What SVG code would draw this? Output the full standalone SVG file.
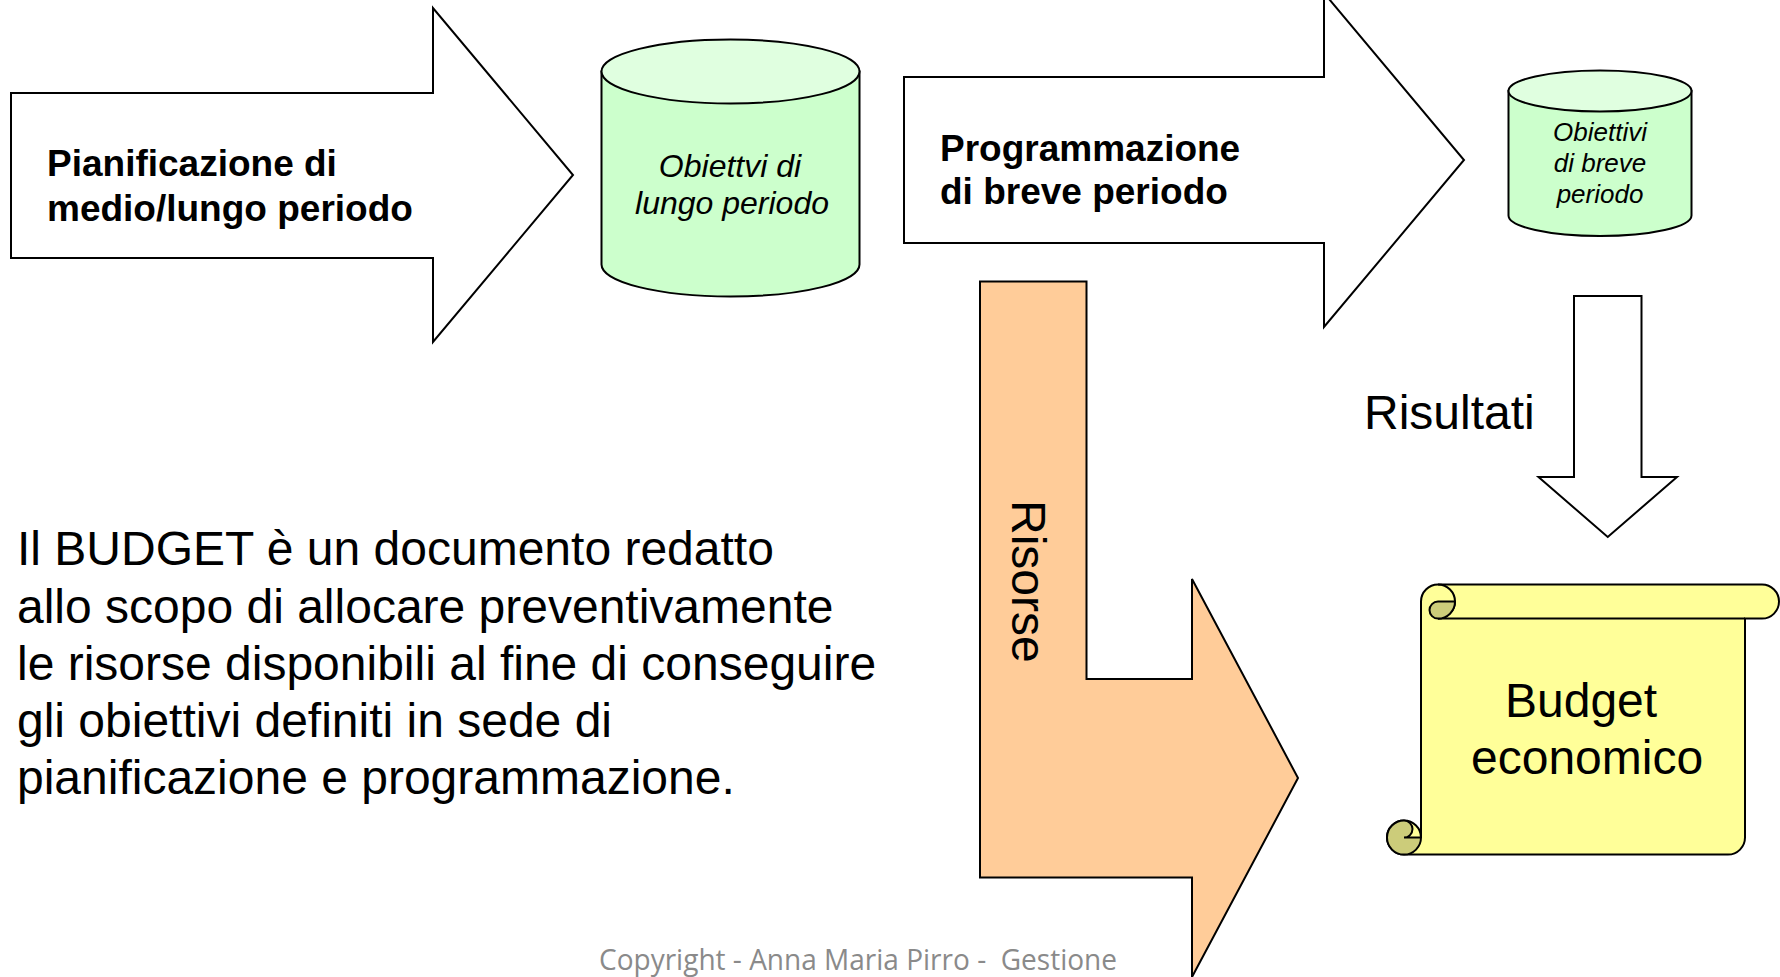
<svg xmlns="http://www.w3.org/2000/svg" width="1780" height="977" viewBox="0 0 1780 977">
<style>
.ln{stroke:#000;stroke-width:2;stroke-linejoin:miter}
.white{fill:#fff}
.bold{font-family:"Liberation Sans",Arial,sans-serif;font-weight:bold;font-size:37px;fill:#000}
.it{font-family:"Liberation Sans",Arial,sans-serif;font-style:italic;fill:#000;text-anchor:middle}
.reg{font-family:"Liberation Sans",Arial,sans-serif;font-size:48px;fill:#000}
.cylbody{fill:#ccffcc}
.cyltop{fill:#e0ffe0}
.paper{fill:#ffff99}
.curl{fill:#cccc7a}
</style>
<rect width="1780" height="977" fill="#fff"/>

<g id="pianificazione">
  <polygon class="ln white" points="11,93 433,93 433,8 573,175 433,342 433,258 11,258"/>
  <text class="bold" x="47" y="176">Pianificazione di</text>
  <text class="bold" x="47" y="221">medio/lungo periodo</text>
</g>

<g id="obiettivi-lungo">
  <path class="ln cylbody" d="M601.5,71.5 V264.5 A129,32 0 0 0 859.5,264.5 V71.5 Z"/>
  <ellipse class="ln cyltop" cx="730.5" cy="71.5" rx="129" ry="32"/>
  <text class="it" font-size="32" x="730" y="177">Obiettvi di</text>
  <text class="it" font-size="32" x="732" y="214">lungo periodo</text>
</g>

<g id="programmazione">
  <polygon class="ln white" points="904,77 1324,77 1324,-7 1464,160 1324,327 1324,243 904,243"/>
  <text class="bold" x="940" y="161">Programmazione</text>
  <text class="bold" x="940" y="204">di breve periodo</text>
</g>

<g id="obiettivi-breve">
  <path class="ln cylbody" d="M1508.5,91 V215.5 A91.5,20.5 0 0 0 1691.5,215.5 V91 Z"/>
  <ellipse class="ln cyltop" cx="1600" cy="91" rx="91.5" ry="20.5"/>
  <text class="it" font-size="26" x="1600" y="141">Obiettivi</text>
  <text class="it" font-size="26" x="1600" y="172">di breve</text>
  <text class="it" font-size="26" x="1600" y="203">periodo</text>
</g>

<g id="connectors">
  <g id="risorse">
    <polygon class="ln" fill="#ffcc99" points="980,281.5 1086.5,281.5 1086.5,679 1192,679 1192,579 1298,778 1192,977 1192,877.5 980,877.5"/>
    <text class="reg" font-size="46" transform="translate(1012,500) rotate(90)">Risorse</text>
  </g>
  <g id="risultati">
    <polygon class="ln white" points="1574,296 1641.5,296 1641.5,477 1677,477 1607.75,537 1538.5,477 1574,477"/>
    <text class="reg" font-size="47" x="1364" y="429">Risultati</text>
  </g>
</g>

<g id="budget-economico">
  <path class="ln paper" d="M1438,584.6 L1762,584.6 A17,17 0 0 1 1762,618.6 L1745,618.6 L1745,837.6 A17,17 0 0 1 1728,854.6 L1404,854.6 A17,17 0 0 1 1404,820.6 A17,17 0 0 1 1421,837.6 L1421,601.6 A17,17 0 0 1 1438,584.6 Z"/>
  <path class="ln" fill="none" d="M1438,618.6 L1745,618.6"/>
  <path class="ln" fill="none" d="M1438,584.6 A17,17 0 0 1 1438,618.6"/>
  <path class="ln curl" d="M1438,601.6 L1455,601.6 A17,17 0 0 1 1438,618.6 A8.5,8.5 0 0 1 1438,601.6 Z"/>
  <path class="ln curl" d="M1404,837.6 A8.5,8.5 0 0 0 1404,820.6 A17,17 0 1 0 1421,837.6 Z"/>
  <text class="reg" x="1505" y="717">Budget</text>
  <text class="reg" x="1471" y="774">economico</text>
</g>

<g id="descrizione">
  <text class="reg" x="17" y="565">Il BUDGET è un documento redatto</text>
  <text class="reg" x="17" y="622.5">allo scopo di allocare preventivamente</text>
  <text class="reg" x="17" y="680">le risorse disponibili al fine di conseguire</text>
  <text class="reg" x="17" y="737">gli obiettivi definiti in sede di</text>
  <text class="reg" x="17" y="794">pianificazione e programmazione.</text>
</g>

<g id="copyright">
  <text xml:space="preserve" x="599" y="970" font-family="'Open Sans','Noto Sans',sans-serif" font-size="29" fill="#8a8a8a" textLength="518" lengthAdjust="spacingAndGlyphs">Copyright - Anna Maria Pirro -  Gestione</text>
</g>
</svg>
